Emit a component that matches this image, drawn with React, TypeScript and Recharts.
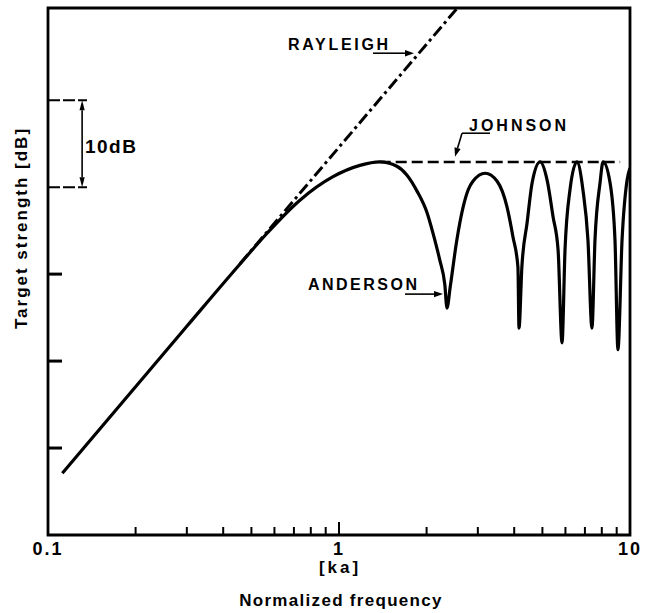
import React from 'react';
import { LineChart, Line, XAxis, YAxis, ReferenceLine, ReferenceDot, ReferenceArea } from 'recharts';

// ---- Data ----
const andersonKa = [0.112, 0.3, 0.45, 0.566, 0.734, 0.954, 1.18, 1.38, 1.58, 1.71, 1.85, 2.01, 2.1, 2.22, 2.31, 2.35, 2.41, 2.54, 2.67, 2.78, 2.89, 3.18, 3.49, 3.78, 3.96, 4.12, 4.155, 4.25, 4.43, 4.61, 4.91, 5.19, 5.44, 5.66, 5.84, 5.98, 6.22, 6.57, 6.89, 7.17, 7.4, 7.58, 7.89, 8.08, 8.54, 8.88, 9.09, 9.39, 9.77, 10.0];
const andersonDb = [7.1, 24.0, 30.9, 34.7, 38.5, 41.2, 42.5, 42.9, 42.4, 41.4, 39.6, 37.0, 34.8, 31.6, 28.8, 26.1, 28.5, 33.9, 37.7, 39.7, 40.7, 41.6, 40.7, 37.7, 34.3, 30.8, 23.8, 30.8, 35.9, 40.5, 42.9, 40.8, 36.6, 32.8, 22.1, 32.8, 39.7, 42.9, 39.7, 33.9, 23.8, 33.9, 40.5, 42.9, 40.5, 33.9, 21.3, 33.9, 40.8, 42.2];

const rayleighKa = [0.457, 2.551];
const rayleighDb = [31.2, 60.6];

const johnsonKa = [1.38, 9.25];
const johnsonDb = [42.9, 42.9];

const xTicks = [0.1, 0.2, 0.3, 0.4, 0.5, 0.6, 0.7, 0.8, 0.9, 1, 2, 3, 4, 5, 6, 7, 8, 9, 10];
const xTickLabels: Record<string, string> = { '0.1': '0.1', '1': '1', '10': '10' };
const yTicks = [10, 20, 30, 40, 50];
const yBracketTicks = [40, 50];
const Y_MIN = 0;
const Y_MAX = 60.6;

const anderson = andersonKa.map((ka, i) => ({ ka, db: andersonDb[i] }));
const rayleigh = rayleighKa.map((ka, i) => ({ ka, db: rayleighDb[i] }));
const johnson = johnsonKa.map((ka, i) => ({ ka, db: johnsonDb[i] }));

const FONT = '"Liberation Sans", Arial, Helvetica, sans-serif';

const XTick = (props: any) => {
  const { x, y, payload } = props;
  const v = payload.value;
  const len = v === 1 ? 13 : 8;
  const label = xTickLabels[String(v)];
  return (
    <g>
      <line x1={x} x2={x} y1={y} y2={y - len} stroke="#000" strokeWidth={2} />
      {label ? (
        <text x={x} y={y + 20} textAnchor="middle" fontFamily={FONT} fontWeight={700} fontSize={18} fill="#000" style={{ letterSpacing: '2px' }}>
          {label}
        </text>
      ) : null}
    </g>
  );
};

const YTick = (props: any) => {
  const { x, y, payload } = props;
  if (yBracketTicks.includes(payload.value)) {
    return <line x1={x} x2={x + 39} y1={y} y2={y} stroke="#000" strokeWidth={2} strokeDasharray="12 3" />;
  }
  return <line x1={x} x2={x + 14} y1={y} y2={y} stroke="#000" strokeWidth={3} />;
};

const arrowHead = (x1: number, y1: number, x2: number, y2: number, L = 9, W = 3.2) => {
  const ang = Math.atan2(y2 - y1, x2 - x1);
  const bx = x2 - L * Math.cos(ang);
  const by = y2 - L * Math.sin(ang);
  const s = Math.sin(ang);
  const c = Math.cos(ang);
  return {
    bx,
    by,
    pts: `${x2},${y2} ${bx - W * s},${by + W * c} ${bx + W * s},${by - W * c}`,
  };
};

const ArrowShape = (p: any) => {
  const { x1, y1, x2, y2 } = p;
  const h = arrowHead(x1, y1, x2, y2);
  return (
    <g>
      <line x1={x1} y1={y1} x2={h.bx} y2={h.by} stroke="#000" strokeWidth={1.6} />
      <polygon points={h.pts} fill="#000" />
    </g>
  );
};

const DoubleArrowShape = (p: any) => {
  const { x1, y1, x2, y2 } = p;
  const h1 = arrowHead(x1, y1, x2, y2, 10, 2.6);
  const h2 = arrowHead(x2, y2, x1, y1, 10, 2.6);
  return (
    <g>
      <line x1={h2.bx} y1={h2.by} x2={h1.bx} y2={h1.by} stroke="#000" strokeWidth={1.6} />
      <polygon points={h1.pts} fill="#000" />
      <polygon points={h2.pts} fill="#000" />
    </g>
  );
};

const PlainShape = (p: any) => {
  const { x1, y1, x2, y2 } = p;
  return <line x1={x1} y1={y1} x2={x2} y2={y2} stroke="#000" strokeWidth={1.6} />;
};

const textShape = (text: string, size: number, spacing: number) => (p: any) => (
  <text x={p.cx} y={p.cy} fontFamily={FONT} fontWeight={700} fontSize={size} fill="#000" style={{ letterSpacing: `${spacing}px` }}>
    {text}
  </text>
);

const XTitle = (props: any) => {
  const vb = props.viewBox || { x: 48, y: 535, width: 582 };
  const cx = vb.x + vb.width / 2;
  return (
    <g>
      <text x={cx + 1} y={vb.y + 38} textAnchor="middle" fontFamily={FONT} fontWeight={700} fontSize={17} fill="#000" style={{ letterSpacing: '3px' }}>
        [ka]
      </text>
      <text x={cx + 2} y={vb.y + 71} textAnchor="middle" fontFamily={FONT} fontWeight={700} fontSize={17} fill="#000" style={{ letterSpacing: '1.3px' }}>
        Normalized frequency
      </text>
    </g>
  );
};

const YTitle = (props: any) => {
  const vb = props.viewBox || { x: 47, y: 8 };
  const x = vb.x - 20;
  const y = vb.y + 220;
  return (
    <text x={x} y={y} transform={`rotate(-90, ${x}, ${y})`} textAnchor="middle" fontFamily={FONT} fontWeight={700} fontSize={17} fill="#000" style={{ letterSpacing: '2px' }}>
      Target strength [dB]
    </text>
  );
};

export default function App() {
  return (
    <div style={{ position: 'absolute', left: 0, top: 0, background: '#fff' }}>
      <LineChart width={654} height={613} margin={{ top: 8, right: 24, bottom: 77, left: 47 }}>
        <XAxis
          dataKey="ka"
          type="number"
          scale="log"
          domain={[0.1, 10]}
          ticks={xTicks}
          interval={0}
          allowDataOverflow
          height={1}
          axisLine={false}
          tickLine={false}
          tickSize={0}
          tickMargin={0}
          tick={(p: any) => <XTick {...p} />}
          label={{ content: (p: any) => <XTitle {...p} /> }}
        />
        <YAxis
          type="number"
          domain={[Y_MIN, Y_MAX]}
          ticks={yTicks}
          interval={0}
          allowDataOverflow
          width={1}
          axisLine={false}
          tickLine={false}
          tickSize={0}
          tickMargin={0}
          tick={(p: any) => <YTick {...p} />}
          label={{ content: (p: any) => <YTitle {...p} /> }}
        />
        <ReferenceArea x1={0.1} x2={10} y1={Y_MIN} y2={Y_MAX} fill="none" stroke="#000" strokeWidth={2.8} fillOpacity={0} ifOverflow="visible" />

        <Line data={rayleigh} dataKey="db" type="linear" stroke="#000" strokeWidth={3} strokeDasharray="12 4 3 4" dot={false} activeDot={false} isAnimationActive={false} />
        <Line data={johnson} dataKey="db" type="linear" stroke="#000" strokeWidth={2.6} strokeDasharray="11 5" dot={false} activeDot={false} isAnimationActive={false} />
        <Line data={anderson} dataKey="db" type="monotone" stroke="#000" strokeWidth={3.2} dot={false} activeDot={false} isAnimationActive={false} />

        {/* 10 dB bracket */}
        <ReferenceLine segment={[{ x: 0.131, y: 40 }, { x: 0.131, y: 50 }]} shape={(p: any) => <DoubleArrowShape {...p} />} ifOverflow="visible" />
        <ReferenceDot x={0.134} y={43.9} r={0} ifOverflow="visible" shape={textShape('10dB', 19, 1.5)} />

        {/* RAYLEIGH */}
        <ReferenceDot x={0.668} y={55.75} r={0} ifOverflow="visible" shape={textShape('RAYLEIGH', 16, 2.7)} />
        <ReferenceLine segment={[{ x: 1.309, y: 55.4 }, { x: 1.81, y: 55.4 }]} shape={(p: any) => <ArrowShape {...p} />} ifOverflow="visible" />

        {/* JOHNSON */}
        <ReferenceDot x={2.797} y={46.45} r={0} ifOverflow="visible" shape={textShape('JOHNSON', 16, 3)} />
        <ReferenceLine segment={[{ x: 2.647, y: 46.2 }, { x: 3.303, y: 46.2 }]} shape={(p: any) => <PlainShape {...p} />} ifOverflow="visible" />
        <ReferenceLine segment={[{ x: 2.647, y: 46.2 }, { x: 2.504, y: 43.5 }]} shape={(p: any) => <ArrowShape {...p} />} ifOverflow="visible" />

        {/* ANDERSON */}
        <ReferenceDot x={0.782} y={28.17} r={0} ifOverflow="visible" shape={textShape('ANDERSON', 16, 2.5)} />
        <ReferenceLine segment={[{ x: 1.686, y: 27.7 }, { x: 2.277, y: 27.7 }]} shape={(p: any) => <ArrowShape {...p} />} ifOverflow="visible" />
      </LineChart>
    </div>
  );
}
